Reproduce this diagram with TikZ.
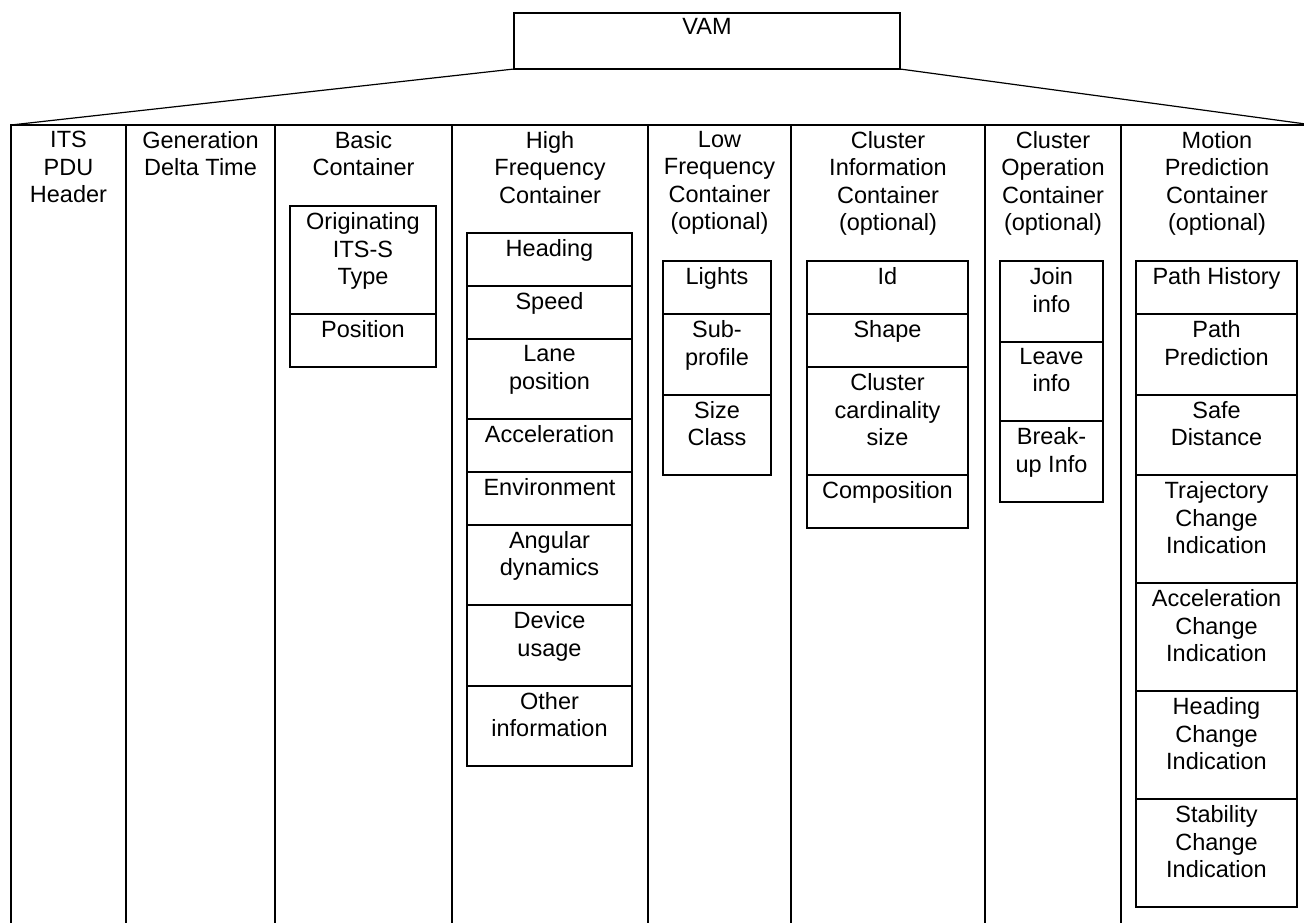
\documentclass[tikz,border=0pt]{standalone}
\usepackage{fontspec}
\setmainfont{Liberation Sans}
\usetikzlibrary{positioning}

\begin{document}
\begin{tikzpicture}[x=1pt, y=-1pt,
    every node/.style={font=\fontsize{23.5}{27.5}\selectfont},
    box/.style={draw, line width=2pt, outer sep=0pt},
    head/.style={anchor=north, align=center, inner sep=6pt},
    field/.style={box, anchor=north, inner xsep=0pt, inner ysep=6.5pt, align=center,
      execute at end node={\rule[-23pt]{0pt}{23pt}}}]
      \useasboundingbox (0,0) rectangle (1304,923);
      \clip (0,0) rectangle (1304,923);
      \node[box, anchor=north west, minimum width=1302, minimum height=830] (frame) at (11,125) {};
      \node[box, anchor=north west, minimum width=386, minimum height=56, inner sep=5pt, text depth=29pt] (vam) at (514,13) {VAM};
      \draw[line width=1.2pt] (vam.south west) -- (frame.north west);
      \draw[line width=1.2pt] (vam.south east) -- (frame.north east);
      \draw[line width=2pt] (126,125) -- (126,960);
      \draw[line width=2pt] (275,125) -- (275,960);
      \draw[line width=2pt] (452,125) -- (452,960);
      \draw[line width=2pt] (648,125) -- (648,960);
      \draw[line width=2pt] (791,125) -- (791,960);
      \draw[line width=2pt] (985,125) -- (985,960);
      \draw[line width=2pt] (1121,125) -- (1121,960);
      \node[head] (its) at (68.5,125) {ITS\\PDU\\Header};
      \node[head] (gen) at (200.5,125) {Generation\\Delta Time};
      \node[head] (bas) at (363.5,125) {Basic\\Container};
      \node[head] (hf) at (550,125) {High\\Frequency\\Container};
      \node[head] (lf) at (719.5,125) {Low\\Frequency\\Container\\(optional)};
      \node[head] (ci) at (888,125) {Cluster\\Information\\Container\\(optional)};
      \node[head] (co) at (1053,125) {Cluster\\Operation\\Container\\(optional)};
      \node[head] (mp) at (1217,125) {Motion\\Prediction\\Container\\(optional)};
      \node[field, minimum width=146] (bas1) at (363,206) {Originating\\ITS-S\\Type};
      \node[field, minimum width=146, below=0pt of bas1] (bas2) {Position};
      \node[field, minimum width=165] (hf1) at (549.5,233) {Heading};
      \node[field, minimum width=165, below=0pt of hf1] (hf2) {Speed};
      \node[field, minimum width=165, below=0pt of hf2] (hf3) {Lane\\position};
      \node[field, minimum width=165, below=0pt of hf3] (hf4) {Acceleration};
      \node[field, minimum width=165, below=0pt of hf4] (hf5) {Environment};
      \node[field, minimum width=165, below=0pt of hf5] (hf6) {Angular\\dynamics};
      \node[field, minimum width=165, below=0pt of hf6] (hf7) {Device\\usage};
      \node[field, minimum width=165, below=0pt of hf7] (hf8) {Other\\information};
      \node[field, minimum width=108] (lf1) at (717,261) {Lights};
      \node[field, minimum width=108, below=0pt of lf1] (lf2) {Sub-\\profile};
      \node[field, minimum width=108, below=0pt of lf2] (lf3) {Size\\Class};
      \node[field, minimum width=161] (ci1) at (887.5,261) {Id};
      \node[field, minimum width=161, below=0pt of ci1] (ci2) {Shape};
      \node[field, minimum width=161, below=0pt of ci2] (ci3) {Cluster\\cardinality\\size};
      \node[field, minimum width=161, below=0pt of ci3] (ci4) {Composition};
      \node[field, minimum width=103] (co1) at (1051.5,261) {Join\\info};
      \node[field, minimum width=103, below=0pt of co1] (co2) {Leave\\info};
      \node[field, minimum width=103, below=0pt of co2] (co3) {Break-\\up Info};
      \node[field, minimum width=161] (mp1) at (1216.5,261) {Path History};
      \node[field, minimum width=161, below=0pt of mp1] (mp2) {Path\\Prediction};
      \node[field, minimum width=161, below=0pt of mp2] (mp3) {Safe\\Distance};
      \node[field, minimum width=161, below=0pt of mp3] (mp4) {Trajectory\\Change\\Indication};
      \node[field, minimum width=161, below=0pt of mp4] (mp5) {Acceleration\\Change\\Indication};
      \node[field, minimum width=161, below=0pt of mp5] (mp6) {Heading\\Change\\Indication};
      \node[field, minimum width=161, below=0pt of mp6] (mp7) {Stability\\Change\\Indication};
    \end{tikzpicture}
\end{document}
